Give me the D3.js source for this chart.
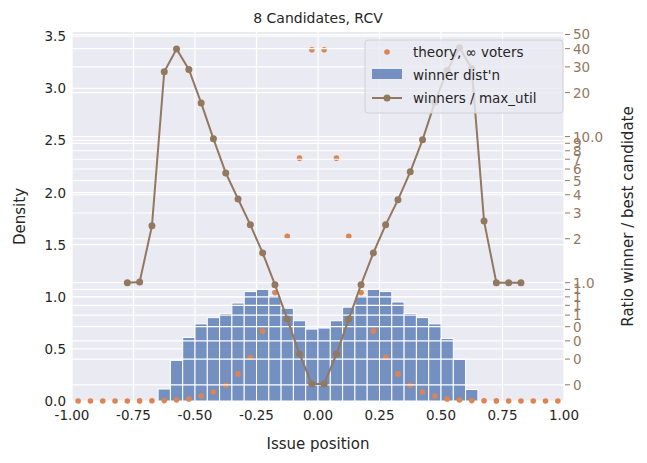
<!DOCTYPE html>
<html>
<head>
<meta charset="utf-8">
<script src="https://cdn.jsdelivr.net/npm/d3@7"></script>
<style>
  body { margin: 0; background: #fff; }
  svg text { font-family: "DejaVu Sans", sans-serif; }
</style>
</head>
<body>
<svg id="chart" width="647" height="463"></svg>
<script>
// histogram of winners, bins of 0.05 from -0.65 to 0.65
var binEdges0 = -0.65, binWidth = 0.05;
var histValues = [0.115, 0.39, 0.61, 0.74, 0.80, 0.84, 0.94, 1.05, 1.07, 1.01, 0.89, 0.77, 0.69,
                  0.70, 0.77, 0.90, 1.01, 1.07, 1.05, 0.95, 0.84, 0.80, 0.74, 0.60, 0.40, 0.11];

// theory points at +/-(0.025 + 0.05k)
var theoryHalf = [3.37, 2.33, 1.58, 1.04, 0.67, 0.42, 0.26, 0.15, 0.086, 0.048, 0.02, 0.01,
                  0.004, 0.002, 0.001, 0, 0, 0, 0, 0];

// ratio winners / max_util, x from -0.775 step 0.05
var ratioStart = -0.775;
var ratioValues = [1.0, 1.01, 2.45, 27.8, 39.8, 28.8, 17.0, 9.65, 5.64, 3.74, 2.49, 1.60, 0.97,
                   0.564, 0.325, 0.203, 0.203, 0.325, 0.564, 0.97, 1.6, 2.49, 3.69, 5.74, 9.5,
                   17.2, 28.3, 40.5, 29.2, 2.64, 1.0, 1.0, 1.0];

var leftTicks = [0, 0.5, 1.0, 1.5, 2.0, 2.5, 3.0, 3.5];
var xTicks = [-1, -0.75, -0.5, -0.25, 0, 0.25, 0.5, 0.75, 1];
var rightTicks = [0.2, 0.3, 0.4, 0.5, 0.6, 0.7, 0.8, 0.9, 1, 2, 3, 4, 5, 6, 7, 8, 9, 10, 20, 30, 40, 50];
var rightLabels = ["0", "0", "0", "0", "1", "1", "1", "1", "1.0", "2", "3", "4", "5", "6", "7", "8", "9",
                   "10.0", "20", "30", "40", "50"];

(function () {
  var svg = d3.select("#chart");
  var pl = 72, pr = 564, pt = 32, pb = 401;
  var brown = "#937860", orange = "#dd8452", blue = "#4c72b0";

  var x = d3.scaleLinear().domain([-1, 1]).range([pl, pr]);
  var y = d3.scaleLinear().domain([0, 3.54]).range([pb, pt]);
  var yr = d3.scaleLog().domain([0.155, 52]).range([pb, pt]);

  svg.append("rect").attr("x", pl).attr("y", pt)
    .attr("width", pr - pl).attr("height", pb - pt).attr("fill", "#eaeaf2");

  // left grid
  svg.selectAll(".gy").data(leftTicks).enter().append("line")
    .attr("x1", pl).attr("x2", pr)
    .attr("y1", function (d) { return y(d); }).attr("y2", function (d) { return y(d); })
    .attr("stroke", "#fff").attr("stroke-width", 1.2);
  svg.selectAll(".gx").data(xTicks).enter().append("line")
    .attr("y1", pt).attr("y2", pb)
    .attr("x1", function (d) { return x(d); }).attr("x2", function (d) { return x(d); })
    .attr("stroke", "#fff").attr("stroke-width", 1.2);

  // bars
  svg.selectAll(".bar").data(histValues).enter().append("rect")
    .attr("x", function (d, i) { return x(binEdges0 + i * binWidth); })
    .attr("width", function (d, i) { return x(binEdges0 + (i + 1) * binWidth) - x(binEdges0 + i * binWidth); })
    .attr("y", function (d) { return y(d); })
    .attr("height", function (d) { return pb - y(d); })
    .attr("fill", blue).attr("fill-opacity", 0.75)
    .attr("stroke", "#fff").attr("stroke-width", 1);

  // theory points
  var theory = [];
  theoryHalf.forEach(function (v, k) {
    theory.push({x: -(0.025 + 0.05 * k), y: v});
    theory.push({x: 0.025 + 0.05 * k, y: v});
  });
  svg.selectAll(".th").data(theory).enter().append("circle")
    .attr("cx", function (d) { return x(d.x); })
    .attr("cy", function (d) { return y(d.y); })
    .attr("r", 2.8).attr("fill", orange);

  // right grid (twin axis, drawn on top)
  svg.selectAll(".gr").data(rightTicks).enter().append("line")
    .attr("x1", pl).attr("x2", pr)
    .attr("y1", function (d) { return yr(d); }).attr("y2", function (d) { return yr(d); })
    .attr("stroke", "#fff").attr("stroke-width", 1.2);

  // ratio line
  var ratio = ratioValues.map(function (v, i) { return {x: ratioStart + i * 0.05, y: v}; });
  svg.append("path").datum(ratio)
    .attr("d", d3.line().x(function (d) { return x(d.x); }).y(function (d) { return yr(d.y); }))
    .attr("fill", "none").attr("stroke", brown).attr("stroke-width", 2);
  svg.selectAll(".rp").data(ratio).enter().append("circle")
    .attr("cx", function (d) { return x(d.x); })
    .attr("cy", function (d) { return yr(d.y); })
    .attr("r", 3.5).attr("fill", brown);

  // tick labels
  svg.selectAll(".ly").data(leftTicks).enter().append("text")
    .attr("x", pl - 6).attr("y", function (d) { return y(d) + 5; })
    .attr("text-anchor", "end").attr("font-size", 13.5).attr("fill", "#262626")
    .text(function (d) { return d.toFixed(1); });
  svg.selectAll(".lx").data(xTicks).enter().append("text")
    .attr("x", function (d) { return x(d); }).attr("y", pb + 19)
    .attr("text-anchor", "middle").attr("font-size", 13.5).attr("fill", "#262626")
    .text(function (d) { return d.toFixed(2); });

  svg.selectAll(".rt").data(rightTicks).enter().append("line")
    .attr("x1", pr + 1).attr("x2", pr + 6)
    .attr("y1", function (d) { return yr(d); }).attr("y2", function (d) { return yr(d); })
    .attr("stroke", brown).attr("stroke-width", 1);
  svg.selectAll(".rl").data(rightTicks).enter().append("text")
    .attr("x", pr + 9).attr("y", function (d) { return yr(d) + 5; })
    .attr("font-size", 13.5).attr("fill", brown)
    .text(function (d, i) { return rightLabels[i]; });

  // titles
  svg.append("text").attr("x", 318).attr("y", 23).attr("text-anchor", "middle")
    .attr("font-size", 14).attr("fill", "#262626").text("8 Candidates, RCV");
  svg.append("text").attr("x", 318).attr("y", 449).attr("text-anchor", "middle")
    .attr("font-size", 15).attr("fill", "#262626").text("Issue position");
  svg.append("text").attr("transform", "translate(25," + ((pt + pb) / 2) + ") rotate(-90)")
    .attr("text-anchor", "middle").attr("font-size", 15).attr("fill", "#262626").text("Density");
  svg.append("text").attr("transform", "translate(633," + ((pt + pb) / 2) + ") rotate(-90)")
    .attr("text-anchor", "middle").attr("font-size", 15).attr("fill", "#262626")
    .text("Ratio winner / best candidate");

  // legend
  var lg = svg.append("g").attr("transform", "translate(365,40)");
  lg.append("rect").attr("width", 198).attr("height", 73).attr("rx", 3)
    .attr("fill", "#eaeaf2").attr("fill-opacity", 0.8).attr("stroke", "#d0d0d8");
  lg.append("circle").attr("cx", 22).attr("cy", 12).attr("r", 2.8).attr("fill", orange);
  lg.append("rect").attr("x", 7).attr("y", 29).attr("width", 30).attr("height", 10)
    .attr("fill", blue).attr("fill-opacity", 0.75);
  lg.append("line").attr("x1", 7).attr("x2", 37).attr("y1", 58).attr("y2", 58)
    .attr("stroke", brown).attr("stroke-width", 2);
  lg.append("circle").attr("cx", 22).attr("cy", 58).attr("r", 3.5).attr("fill", brown);
  var legendLabels = ["theory, \u221e voters", "winner dist'n", "winners / max_util"];
  lg.selectAll(".lt").data(legendLabels).enter().append("text")
    .attr("x", 48).attr("y", function (d, i) { return 17 + i * 23; })
    .attr("font-size", 13.5).attr("fill", "#262626")
    .text(function (d) { return d; });
})();
</script>
</body>
</html>
